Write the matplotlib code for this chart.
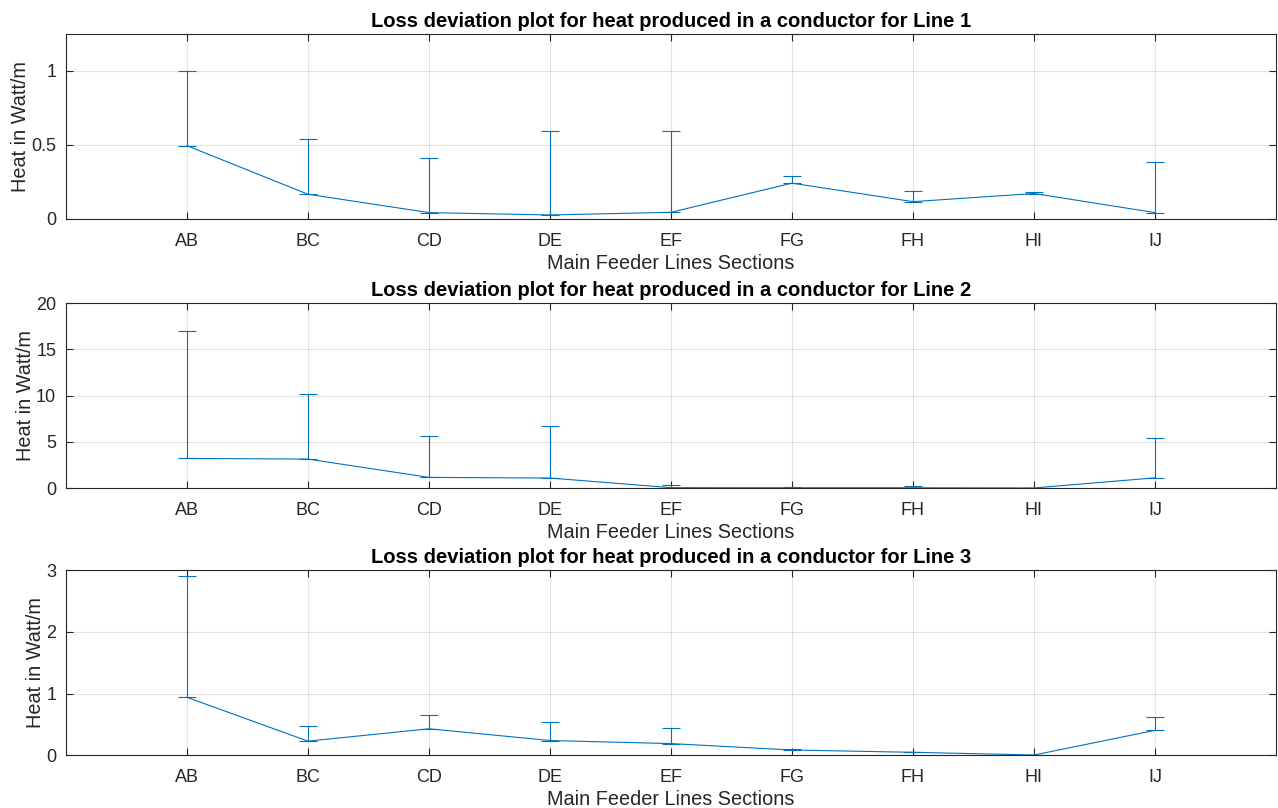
import numpy as np
import matplotlib
matplotlib.use("Agg")
import matplotlib.pyplot as plt

sections = ["AB", "BC", "CD", "DE", "EF", "FG", "FH", "HI", "IJ"]

line1_vals = [0.495, 0.167, 0.043, 0.027, 0.045, 0.242, 0.117, 0.172, 0.043]
line1_upper = [0.998, 0.542, 0.409, 0.596, 0.594, 0.287, 0.190, 0.183, 0.386]

line2_vals = [3.20, 3.13, 1.15, 1.08, 0.04, 0.03, 0.03, 0.01, 1.10]
line2_upper = [16.94, 10.20, 5.65, 6.73, 0.29, 0.07, 0.18, 0.05, 5.36]

line3_vals = [0.94, 0.23, 0.43, 0.24, 0.19, 0.086, 0.049, 0.005, 0.405]
line3_upper = [2.91, 0.47, 0.65, 0.54, 0.45, 0.097, 0.060, 0.005, 0.616]

titles = ["Loss deviation plot for heat produced in a conductor for Line 1",
          "Loss deviation plot for heat produced in a conductor for Line 2",
          "Loss deviation plot for heat produced in a conductor for Line 3"]
ylims = [(0, 1.25), (0, 20), (0, 3)]
yticks = [[0, 0.5, 1], [0, 5, 10, 15, 20], [0, 1, 2, 3]]
ytick_labels = [["0", "0.5", "1"], ["0", "5", "10", "15", "20"], ["0", "1", "2", "3"]]

plt.rcParams['font.family'] = ['Liberation Sans', 'DejaVu Sans']
color = "#0072BD"
tickc = "#262626"

fig = plt.figure(figsize=(12.78, 8.08), dpi=100)
bottoms = [0.729, 0.396, 0.0652]
data = [(line1_vals, line1_upper), (line2_vals, line2_upper), (line3_vals, line3_upper)]
x = np.arange(1, len(sections) + 1)

for i, (vals, upper) in enumerate(data):
    ax = fig.add_axes([0.0516, bottoms[i], 0.9468, 0.229])
    vals = np.array(vals)
    upper = np.array(upper)
    yerr = np.vstack([np.zeros_like(vals), upper - vals])
    ax.errorbar(x, vals, yerr=yerr, color=color, lw=0.8, elinewidth=0.8,
                capsize=6.5, capthick=0.8)
    ax.set_xlim(0, 10)
    ax.set_ylim(*ylims[i])
    ax.set_xticks(x)
    ax.set_xticklabels(sections)
    ax.set_yticks(yticks[i])
    ax.set_yticklabels(ytick_labels[i])
    ax.grid(True, color="#262626", alpha=0.13, lw=0.8)
    ax.tick_params(direction="in", top=True, right=True, length=5, width=0.8,
                   colors=tickc, labelsize=13, pad=7)
    ax.tick_params(axis="x", pad=10)
    for s in ax.spines.values():
        s.set_color(tickc)
        s.set_linewidth(0.8)
    ax.set_title(titles[i], fontsize=14.5, fontweight="bold", pad=5)
    ax.set_xlabel("Main Feeder Lines Sections", fontsize=14.3, color=tickc, labelpad=3)
    ax.set_ylabel("Heat in Watt/m", fontsize=14.3, color=tickc, labelpad=1)

fig.savefig("out.png", dpi=100)
